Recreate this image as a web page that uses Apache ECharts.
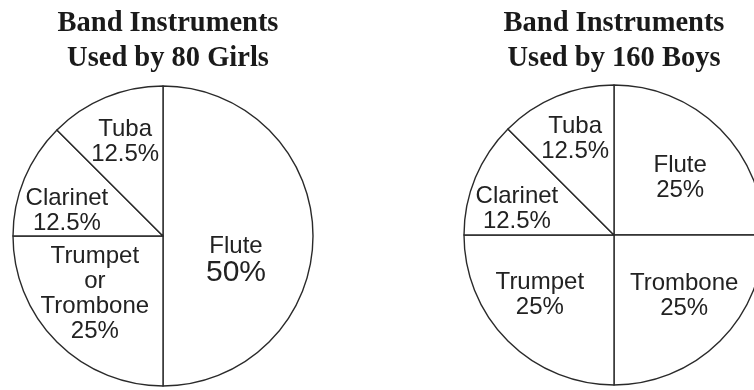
<!DOCTYPE html>
<html>
<head>
<meta charset="utf-8">
<script src="https://cdn.jsdelivr.net/npm/echarts@6/dist/echarts.min.js"></script>
<style>
html,body{margin:0;padding:0;background:#fff;}
#main{width:754px;height:390px;}
</style>
</head>
<body>
<div id="main"></div>
<script>
// 数据
var girlsTitle = 'Band Instruments\nUsed by 80 Girls';
var girlsNames = ['Flute', 'Trumpet or Trombone', 'Clarinet', 'Tuba'];
var girlsValues = [50, 25, 12.5, 12.5];

var boysTitle = 'Band Instruments\nUsed by 160 Boys';
var boysNames = ['Flute', 'Trombone', 'Trumpet', 'Clarinet', 'Tuba'];
var boysValues = [25, 25, 25, 12.5, 12.5];

// 标签微调（样式，不是数据）
var girlsOffsets = {'Flute': [-5, 24], 'Trumpet or Trombone': [-13, 3], 'Clarinet': [-24, 5], 'Tuba': [-8, -22]};
var boysOffsets = {'Flute': [11, -2], 'Trombone': [15, 6], 'Trumpet': [-19, 5], 'Clarinet': [-25, 4], 'Tuba': [-9, -24]};

function buildData(names, values, offsets, bigName){
	var arr = [];
	for (var i = 0; i < names.length; i++) {
		arr.push({
			name: names[i],
			value: values[i],
			label: {
				offset: offsets[names[i]],
				formatter: names[i] === bigName ? '{n|{b}}\n{big|{d}%}' : '{n|{b}\n{d}%}'
			}
		});
	}
	return arr;
}

function pieSeries(center, data){
	return {
		type: 'pie',
		center: center,
		radius: [0, 150],
		startAngle: 90,
		clockwise: true,
		silent: true,
		animation: false,
		avoidLabelOverlap: false,
		itemStyle: {
			color: '#fff',
			borderColor: '#2a2a2a',
			borderWidth: 1.4
		},
		label: {
			show: true,
			position: 'inside',
			color: '#222',
			fontFamily: 'Liberation Sans',
			rich: {
				n: {fontSize: 24, lineHeight: 25, color: '#222', fontFamily: 'Liberation Sans', align: 'center'},
				big: {fontSize: 30, lineHeight: 28, color: '#222', fontFamily: 'Liberation Sans', align: 'center'}
			}
		},
		labelLine: {show: false},
		emphasis: {disabled: true},
		data: data
	};
}

var dom = document.getElementById('main');
var myChart = echarts.init(dom, null, {renderer: 'canvas'});

var girlsData = buildData(girlsNames, girlsValues, girlsOffsets, 'Flute');
// "Trumpet or Trombone" 分三行
girlsData[1].label.formatter = '{n|Trumpet\nor\nTrombone\n{d}%}';

var titleStyle = {fontFamily: 'Liberation Serif', fontWeight: 'bold', fontSize: 28.5, lineHeight: 35, color: '#1a1a1a'};

var option = {
	backgroundColor: '#fff',
	animation: false,
	title: [
		{text: girlsTitle, left: 163, top: 1, textAlign: 'center', textStyle: titleStyle},
		{text: boysTitle, left: 609, top: 1, textAlign: 'center', textStyle: titleStyle}
	],
	series: [
		pieSeries([163, 236], girlsData),
		pieSeries([614, 235], buildData(boysNames, boysValues, boysOffsets, ''))
	]
};
myChart.setOption(option, true);
</script>
</body>
</html>
